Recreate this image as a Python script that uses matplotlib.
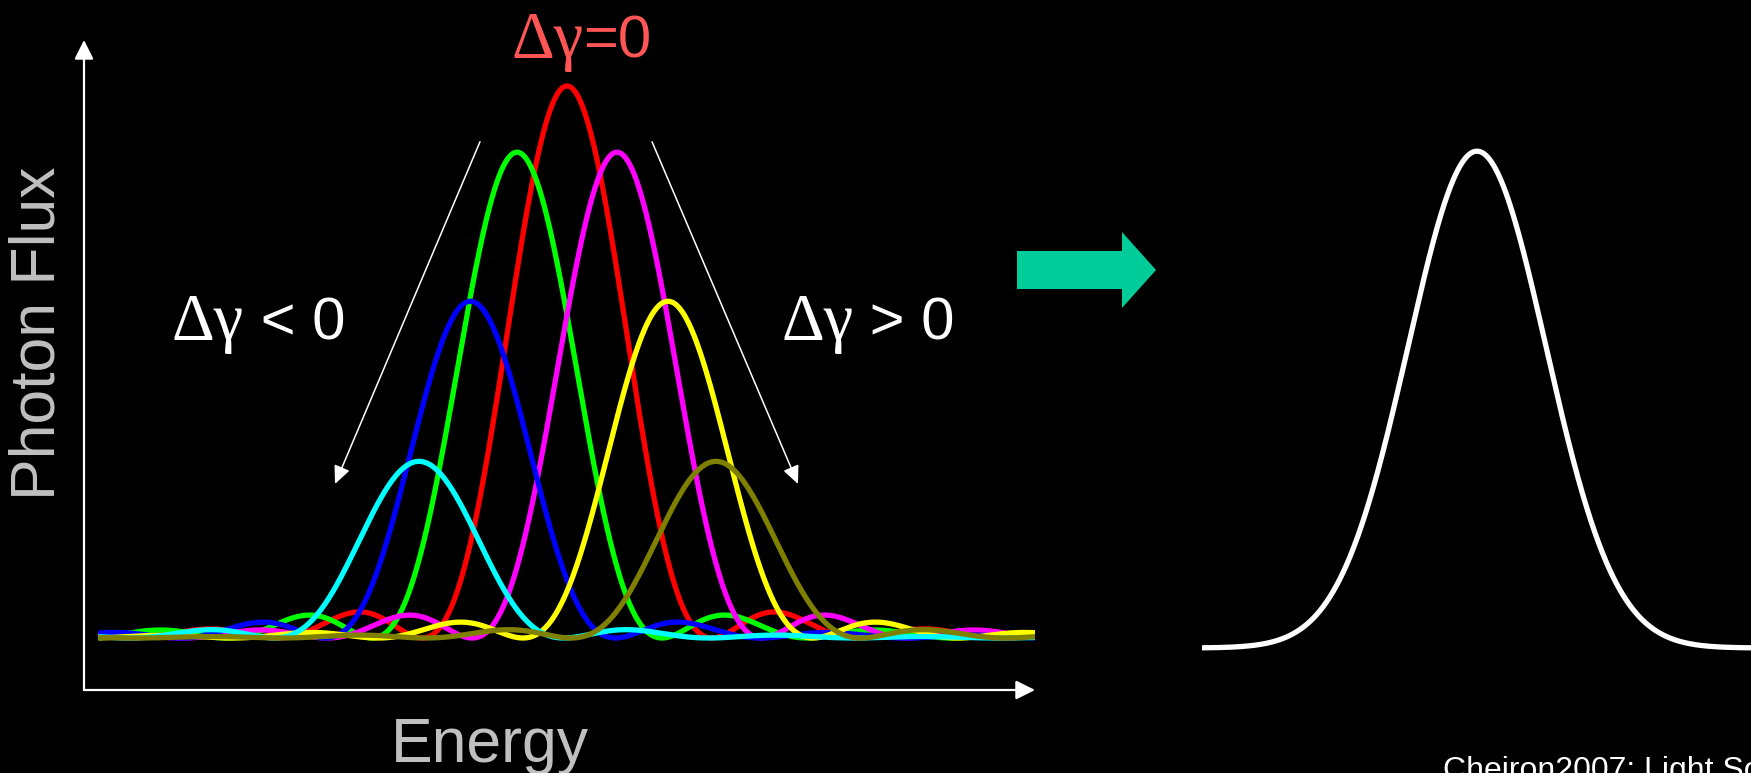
import numpy as np
import matplotlib.pyplot as plt
from matplotlib.patches import FancyArrow

# undulator line for each energy detuning: peak position and peak flux
peak_energy = [0.0, -1.0, 1.0, -1.93, 2.02, -2.96, 2.98]
peak_flux = [1.0, 0.88, 0.88, 0.61, 0.61, 0.32, 0.32]
zero_width = 2.9          # peak to first zero of the sinc^2 line
energy_span = (-9.32, 9.36)

# resulting spectrum summed over the energy spread
sum_center = 0.0
sum_peak = 0.90
sum_sigma = 1.38
sum_span = (-5.5, 5.48)

line_colors = ['#ff0000', '#00ff00', '#ff00ff', '#0000ff',
               '#ffff00', '#00ffff', '#808000']

W, H = 1751, 773
fig = plt.figure(figsize=(W / 100, H / 100), dpi=100, facecolor='black')
inch = fig.dpi_scale_trans


def px(x, y):
    # picture pixels (top-left origin) -> inches for dpi_scale_trans
    return x / 100, (H - y) / 100


# left panel: individual lines
ax = fig.add_axes([84 / W, 83 / H, 951 / W, 650 / H])
ax.axis('off')
ax.set_xlim(-9.66, 9.36)
ax.set_ylim(-0.0942, 1.0833)

E = np.linspace(*energy_span, 3000)
for e0, a, c in zip(peak_energy, peak_flux, line_colors):
    ax.plot(E, a * np.sinc((E - e0) / zero_width) ** 2, color=c, lw=3.8)

axis_arrow = dict(arrowstyle='-|>,head_length=0.58,head_width=0.29',
                  color='white', lw=1.6, shrinkA=0, shrinkB=0,
                  mutation_scale=20)
ax.annotate('', xy=(0, 1), xytext=(0, 0), xycoords='axes fraction',
            arrowprops=axis_arrow)
ax.annotate('', xy=(1, 0), xytext=(0, 0), xycoords='axes fraction',
            arrowprops=axis_arrow)

trend_arrow = dict(arrowstyle='-|>,head_length=0.55,head_width=0.25',
                   color='white', lw=1.1, shrinkA=0, shrinkB=0,
                   mutation_scale=20)
ax.annotate('', xy=(-4.64, 0.279), xytext=(-1.74, 0.899), arrowprops=trend_arrow)
ax.annotate('', xy=(4.62, 0.279), xytext=(1.70, 0.899), arrowprops=trend_arrow)

# right panel: summed spectrum
ax2 = fig.add_axes([1202 / W, 83 / H, 549 / W, 650 / H])
ax2.axis('off')
ax2.set_xlim(*sum_span)
ax2.set_ylim(-0.0761, 1.1014)
Es = np.linspace(*sum_span, 1000)
ax2.plot(Es, sum_peak * np.exp(-0.5 * ((Es - sum_center) / sum_sigma) ** 2),
         color='white', lw=3.8)

# block arrow between the panels
fig.add_artist(FancyArrow(*px(1017, 270), 1.39, 0, width=0.38, head_width=0.76,
                          head_length=0.34, length_includes_head=True,
                          color='#00cc99', lw=0, transform=inch))

renderer = fig.canvas.get_renderer()
SERIF, SANS = 'Liberation Serif', 'Liberation Sans'


def mixed_label(x, y, parts, color):
    x, y = px(x, y)
    for s, fam, size in parts:
        t = fig.text(x, y, s, family=fam, fontsize=size, color=color,
                     va='baseline', transform=inch)
        x += t.get_window_extent(renderer).width / fig.dpi


mixed_label(511, 58, [('Δγ', SERIF, 48), ('=0', SANS, 43)], '#ff5555')
mixed_label(172, 340, [('Δγ', SERIF, 48), (' < 0', SANS, 43)], 'white')
mixed_label(781, 340, [('Δγ', SERIF, 48), (' > 0', SANS, 43)], 'white')

fig.text(*px(490, 762), 'Energy', family=SANS, fontsize=45, color='#c0c0c0',
         ha='center', va='baseline', transform=inch)
fig.text(*px(38, 333), 'Photon Flux', family=SANS, fontsize=45, color='#c0c0c0',
         rotation=90, ha='center', va='center', transform=inch)
fig.text(*px(1443, 779), 'Cheiron2007: Light Sources', family=SANS, fontsize=23,
         color='white', va='baseline', transform=inch)

fig.savefig('out.png', dpi=100, facecolor='black')
